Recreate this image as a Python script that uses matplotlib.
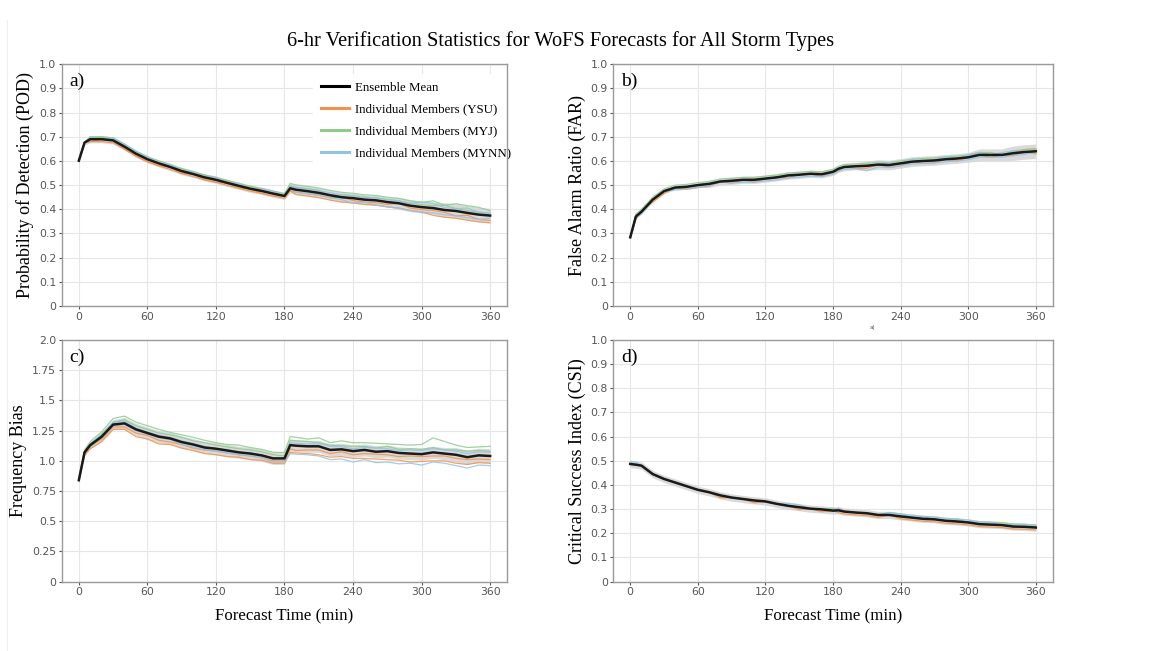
import numpy as np
from matplotlib import pyplot as plt
from matplotlib.lines import Line2D

# forecast times (min)
times = [0, 5, 10, 20, 30, 40, 50, 60, 70, 80, 90, 100, 110, 120, 130, 140, 150, 160, 170, 180,
         185, 190, 200, 210, 220, 230, 240, 250, 260, 270, 280, 290, 300, 310, 320, 330, 340, 350, 360]

# ensemble means
pod_mean = [0.601, 0.676, 0.690, 0.690, 0.685, 0.659, 0.630, 0.607, 0.590, 0.575, 0.558, 0.546, 0.532,
            0.522, 0.509, 0.497, 0.485, 0.476, 0.465, 0.455, 0.487, 0.481, 0.475, 0.468, 0.458, 0.450,
            0.446, 0.440, 0.437, 0.430, 0.425, 0.415, 0.409, 0.405, 0.397, 0.393, 0.385, 0.378, 0.374]
far_mean = [0.284, 0.370, 0.390, 0.440, 0.475, 0.490, 0.493, 0.500, 0.505, 0.515, 0.518, 0.522, 0.522,
            0.527, 0.532, 0.540, 0.543, 0.547, 0.545, 0.555, 0.568, 0.575, 0.578, 0.580, 0.585, 0.583,
            0.590, 0.597, 0.600, 0.602, 0.607, 0.610, 0.615, 0.625, 0.625, 0.625, 0.632, 0.637, 0.640]
bias_mean = [0.84, 1.07, 1.13, 1.20, 1.30, 1.31, 1.26, 1.23, 1.20, 1.185, 1.155, 1.135, 1.11,
             1.10, 1.085, 1.07, 1.06, 1.045, 1.02, 1.02, 1.13, 1.125, 1.12, 1.12, 1.09, 1.095,
             1.08, 1.09, 1.075, 1.08, 1.065, 1.06, 1.055, 1.07, 1.06, 1.05, 1.03, 1.045, 1.04]
csi_mean = [0.487, 0.484, 0.480, 0.445, 0.425, 0.410, 0.395, 0.380, 0.370, 0.357, 0.348, 0.342, 0.336,
            0.332, 0.322, 0.314, 0.308, 0.302, 0.299, 0.294, 0.295, 0.290, 0.286, 0.283, 0.276, 0.276,
            0.270, 0.265, 0.260, 0.258, 0.252, 0.249, 0.245, 0.238, 0.236, 0.234, 0.228, 0.227, 0.224]

# member deviations from the mean (hundredths), two members shown per PBL scheme
pod_ysu = [[0, 0, -1, -1, -1, -1, -1, -1, -1, -1, -1, -1, -1, -1, -1, -1, -1, -1, -1, -1, -1, -2, -2, -2, -2, -2, -2, -2, -2, -2, -2, -2, -2, -3, -3, -3, -3, -3, -3],
           [0, 0, -1, 0, 0, -1, -1, -1, -1, 0, -1, 0, -1, -1, 0, -1, 0, -1, -1, 0, -1, -1, -1, -1, -1, 0, -1, -1, -1, -1, 0, -1, -1, -1, -1, -2, -1, -2, -2]]
pod_myj = [[0, 0, 0, 1, 0, 0, 0, 1, 0, 0, 1, 0, 1, 0, 1, 0, 1, 0, 0, 0, 1, 1, 1, 1, 0, 1, 1, 1, 1, 1, 1, 1, 1, 1, 2, 1, 1, 1, 1],
           [0, 0, 1, 1, 1, 1, 1, 1, 1, 1, 1, 1, 1, 1, 1, 1, 1, 1, 1, 1, 2, 2, 2, 2, 2, 2, 2, 2, 2, 2, 2, 2, 2, 3, 2, 3, 3, 3, 2]]
pod_mynn = [[0, 0, 0, 0, 0, 0, 0, 0, 0, 0, 0, 0, 0, 0, 0, 0, 0, 0, 0, 0, 0, -1, -1, -1, -1, -1, -2, -1, -2, -2, -2, -2, -2, -2, -2, -2, -2, -2, -1],
            [0, 0, 1, 0, 1, 1, 1, 1, 0, 1, 0, 1, 0, 1, 0, 1, 0, 1, 1, 0, 1, 1, 1, 1, 1, 1, 1, 1, 1, 1, 1, 1, 2, 2, 1, 1, 2, 1, 1]]

far_ysu = [[0, -1, 0, -1, -1, 0, -1, -1, -1, 0, -1, 0, -1, 0, 0, -1, 0, 0, -1, 0, -1, 0, -1, -1, 0, -1, -1, 0, -1, -1, 0, -1, 0, 0, -1, 0, -1, 0, -1],
           [0, 0, 0, 0, 0, 0, 0, 0, 0, 0, 0, 0, 0, 0, 0, 0, 0, 0, 0, 0, 0, 0, 0, 0, 0, 0, 0, 0, 0, 0, 0, 0, 0, 1, 0, 0, 0, 1, 1]]
far_myj = [[0, 0, 0, 0, 0, 0, 0, 0, 0, 0, 0, 0, 0, 0, 0, 0, 0, 0, 0, 0, 0, 0, 0, 0, 0, 0, 0, 0, 0, 0, 0, 0, 0, 0, 0, 0, 0, 0, -1],
           [0, 1, 1, 1, 1, 1, 1, 1, 1, 1, 1, 1, 1, 1, 1, 1, 1, 1, 1, 1, 1, 1, 1, 1, 1, 1, 1, 1, 1, 1, 1, 1, 1, 1, 1, 0, 1, 1, 1]]
far_mynn = [[0, 0, -1, 0, 0, -1, -1, -1, -1, 0, -1, -1, -1, -1, -1, -1, -1, -1, -1, -1, -1, -1, -1, -2, -1, -1, -1, -1, -1, -1, -1, -1, -1, -1, -1, -1, -1, -1, 0],
            [0, 0, 0, 0, 0, 0, 0, 0, 0, 0, 0, 0, 0, 0, 0, 0, 0, 0, 0, 0, 0, 0, 0, 0, 0, 1, 0, 1, 0, 0, 1, 0, 1, 1, 0, 1, 1, 0, 0]]

bias_ysu = [[-1, -2, -3, -4, -4, -5, -6, -5, -6, -5, -5, -5, -5, -5, -5, -4, -5, -4, -4, -4, -6, -6, -6, -7, -6, -6, -6, -7, -6, -7, -6, -7, -6, -7, -6, -7, -6, -6, -6],
            [0, -1, -1, -2, -2, -3, -3, -2, -3, -3, -2, -3, -2, -2, -2, -2, -2, -2, -2, -2, -3, -4, -3, -3, -3, -2, -3, -3, -2, -3, -3, -2, -2, -3, -2, -3, -2, -3, -3]]
bias_myj = [[0, 1, 1, 2, 2, 3, 3, 3, 3, 3, 4, 3, 4, 3, 3, 3, 3, 3, 3, 2, 4, 4, 4, 3, 4, 3, 4, 3, 3, 4, 3, 4, 4, 4, 3, 4, 5, 4, 4],
            [1, 2, 3, 4, 5, 6, 6, 6, 6, 5, 6, 6, 6, 5, 5, 6, 5, 5, 5, 5, 7, 7, 6, 7, 6, 7, 7, 6, 7, 6, 7, 7, 8, 12, 10, 8, 8, 7, 8]]
bias_mynn = [[0, 0, -1, -1, -1, -1, -1, -1, -1, -1, -2, -2, -2, -2, -2, -2, -2, -2, -3, -3, -7, -7, -7, -8, -8, -8, -9, -8, -9, -9, -9, -8, -9, -8, -8, -9, -9, -8, -8],
             [0, 1, 1, 1, 2, 2, 1, 1, 1, 1, 1, 1, 1, 0, 1, 0, 1, 0, 0, 0, 2, 2, 2, 2, 3, 2, 2, 2, 3, 2, 2, 3, 3, 3, 3, 3, 3, 3, 3]]

csi_ysu = [[0, 0, 0, 0, 0, 0, 0, 0, 0, -1, 0, 0, -1, 0, 0, 0, -1, 0, -1, 0, -1, -1, -1, -1, -1, 0, -1, -1, -1, -1, -1, -1, -1, -1, -1, -1, -1, -1, -1],
           [0, 0, 0, 0, 0, 0, 0, 0, 0, 0, 0, 0, 0, 0, 0, 0, 0, 0, 0, 0, 0, 0, 0, 0, 0, 0, 0, 0, 0, 0, 0, 0, 0, 0, 0, 0, 0, 0, 0]]
csi_myj = [[0, 0, 0, 0, 0, 0, 0, 0, 0, 0, 0, 0, 0, 0, 0, 0, 0, 0, 0, 0, 0, 0, 0, 0, 0, 0, 0, 0, 0, 0, 0, 0, 0, 0, 0, 0, 0, 0, 0],
           [0, 0, 0, 0, 0, 0, 0, 0, 0, 0, 0, 0, 0, 0, 0, 0, 0, 0, 0, 1, 0, 0, 0, 0, 0, 1, 1, 0, 1, 0, 0, 1, 0, 1, 1, 1, 1, 1, 1]]
csi_mynn = [[0, 0, 0, 0, 0, 0, 0, 0, 0, 0, 0, 0, 0, 0, 0, 0, 0, 0, 0, 0, 0, 0, 0, 0, 0, 0, 0, 0, 0, 0, 0, 0, 0, 0, 0, 0, 0, 0, 0],
            [1, 1, 0, 0, 0, 0, 0, 0, 0, 0, 0, 0, 0, 0, 0, 1, 1, 0, 0, 0, 1, 0, 0, 0, 0, 1, 1, 1, 1, 1, 1, 1, 1, 1, 1, 0, 1, 1, 1]]

# half width of grey shading (hundredths)
pod_band = [1, 1, 1.5, 1.5, 1.5, 1.5, 1.5, 1.5, 1.5, 1.5, 1.5, 1.5, 1.5, 1.5, 1.5, 1.5, 1.5, 1.5, 1.5, 1.5,
            2, 2, 2, 2, 2, 2, 2, 2, 2, 2, 2.5, 2.5, 2.5, 2.5, 3, 3, 3, 3, 3]
far_band = [1, 1, 1, 1, 1, 1, 1, 1, 1.5, 1.5, 1.5, 1.5, 1.5, 1.5, 1.5, 1.5, 1.5, 1.5, 1.5, 1.5,
            1.5, 1.5, 1.5, 2, 2, 2, 2, 2, 2, 2, 2, 2, 2, 2.5, 2.5, 2.5, 3, 3, 3]
bias_band = [2, 3, 3, 4, 4, 5, 5, 5, 5, 5, 5, 5, 5, 5, 5, 5, 5, 5, 5, 5,
             5, 5, 5, 5, 5, 5, 5, 5, 5, 5, 5, 5, 5, 5, 5, 6, 6, 6, 6]
csi_band = [1.5, 1.5, 1.5, 1.5, 1.5, 1.5, 1.5, 1.5, 1.5, 1.5, 1.5, 1.5, 1.5, 1.5, 1.5, 1.5, 1.5, 1.5, 1.5, 1.5,
            1.5, 1.5, 1.5, 1.5, 1.5, 1.5, 1.5, 1.5, 1.5, 1.5, 1.5, 1.5, 1.5, 1.5, 1.5, 1.5, 1.5, 1.5, 1.5]

ysu_color = '#f5914a'
myj_color = '#8fcc8c'
mynn_color = '#92c3e6'

serif = 'Liberation Serif'
tick_grey = '#555555'
spine_grey = '#999999'

fig = plt.figure(figsize=(11.49, 6.51), dpi=100)

panels = [
    ([0.0537, 0.5300, 0.3878, 0.3713], pod_mean, pod_ysu, pod_myj, pod_mynn, pod_band,
     'Probability of Detection (POD)', 'a)', 1.0),
    ([0.5338, 0.5300, 0.3824, 0.3713], far_mean, far_ysu, far_myj, far_mynn, far_band,
     'False Alarm Ratio (FAR)', 'b)', 1.0),
    ([0.0537, 0.1065, 0.3878, 0.3713], bias_mean, bias_ysu, bias_myj, bias_mynn, bias_band,
     'Frequency Bias', 'c)', 2.0),
    ([0.5338, 0.1065, 0.3824, 0.3713], csi_mean, csi_ysu, csi_myj, csi_mynn, csi_band,
     'Critical Success Index (CSI)', 'd)', 1.0),
]

t = np.array(times)
for i, (rect, mean, ysu, myj, mynn, band, ylabel, letter, ymax) in enumerate(panels):
    ax = fig.add_axes(rect)
    mean = np.array(mean)
    band = np.array(band) / 100.0
    ax.fill_between(t, mean - band, mean + band, color='#d4d4d4', alpha=0.85, lw=0, zorder=1)
    for offs, col in [(ysu, ysu_color), (myj, myj_color), (mynn, mynn_color)]:
        for o in offs:
            ax.plot(t, mean + np.array(o) / 100.0, color=col, lw=0.9, alpha=0.85, zorder=2)
    ax.plot(t, mean, color='#1a1a1a', lw=1.8, zorder=3)

    ax.set_xlim(-15, 375)
    ax.set_ylim(0, ymax)
    ax.set_xticks([0, 60, 120, 180, 240, 300, 360])
    if ymax == 2.0:
        ax.set_yticks([0, 0.25, 0.5, 0.75, 1.0, 1.25, 1.5, 1.75, 2.0])
        ax.set_yticklabels(['0', '0.25', '0.5', '0.75', '1.0', '1.25', '1.5', '1.75', '2.0'])
    else:
        ax.set_yticks(np.arange(0, 1.01, 0.1))
        ax.set_yticklabels(['0'] + ['%.1f' % v for v in np.arange(0.1, 1.01, 0.1)])
    ax.grid(True, color='#e6e6e6', lw=0.8)
    ax.set_axisbelow(True)
    for s in ax.spines.values():
        s.set_color(spine_grey)
        s.set_linewidth(1.0)
    ax.tick_params(colors=tick_grey, labelsize=7.8, length=2.5, width=0.8, pad=1.5)
    ax.set_ylabel(ylabel, family=serif, fontsize=13, color='black', labelpad=3.5)
    if i >= 2:
        ax.set_xlabel('Forecast Time (min)', family=serif, fontsize=12.2, color='black', labelpad=8)
    ax.text(0.018, 0.965, letter, transform=ax.transAxes, family=serif, fontsize=14,
            va='top', ha='left')

    if i == 0:
        handles = [Line2D([], [], color='black', lw=2.2),
                   Line2D([], [], color=ysu_color, lw=2.2),
                   Line2D([], [], color=myj_color, lw=2.2),
                   Line2D([], [], color=mynn_color, lw=2.2)]
        labels = ['Ensemble Mean', 'Individual Members (YSU)',
                  'Individual Members (MYJ)', 'Individual Members (MYNN)']
        leg = ax.legend(handles, labels, loc='upper right', bbox_to_anchor=(1.026, 0.96),
                        frameon=True, fancybox=False,
                        edgecolor='white', framealpha=1.0, borderaxespad=0.0, borderpad=0.6,
                        prop={'family': serif, 'size': 9.3}, handlelength=2.2,
                        labelspacing=0.76, handletextpad=0.45)
        leg.set_zorder(2.4)

fig.text(0.4875, 0.937, '6-hr Verification Statistics for WoFS Forecasts for All Storm Types',
         family=serif, fontsize=14.7, ha='center', va='center')

# stray marks from the original screenshot
fig.text(0.759, 0.497, 'a)', fontsize=4, color='#555555', ha='center', va='center')
fig.add_artist(Line2D([0.006, 0.006], [0.0, 0.97], color='#eeeeee', lw=0.8))

fig.savefig('out.png', dpi=100, facecolor='white')
